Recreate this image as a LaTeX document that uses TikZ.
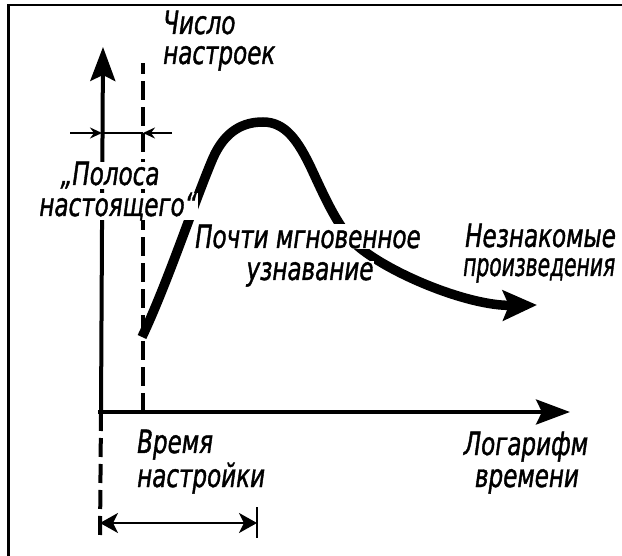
\documentclass[tikz,border=0pt]{standalone}
\usepackage{fontspec}
\setmainfont{DejaVu Sans}[FakeStretch=0.72,FakeBold=1.2]
\usetikzlibrary{arrows.meta}
\begin{document}
\begin{tikzpicture}[x=1pt,y=-1pt,
  lbl/.style={font=\itshape\fontsize{32}{36}\selectfont, inner sep=1pt, fill=white},
  axisln/.style={line width=4pt},
  dashln/.style={line width=4pt, dash pattern=on 19pt off 7pt},
  bigtip/.style={-{Stealth[length=34pt,width=25pt,inset=6pt]}},
  thinln/.style={line width=1.8pt},
  smalltip/.style={-{Stealth[length=12pt,width=11pt,inset=4pt]}},
  dimln/.style={line width=2.5pt},
  curveln/.style={line width=9.5pt, -{Stealth[length=34pt,width=30pt,inset=6pt]}}
]
\useasboundingbox (0,0) rectangle (622,556);
% frame (only top and left visible)
\draw[line width=2.5pt] (8.5,556) -- (8.5,5) -- (622,5);

% coordinates
\coordinate (O) at (101,412);
\coordinate (ytip) at (103,47);
\coordinate (xstart) at (98,412);
\coordinate (xtip) at (570,412);
\coordinate (ybot) at (100,538);
\coordinate (dtop) at (143,63);
\coordinate (dbot) at (143,412);
\coordinate (aL) at (70,133);
\coordinate (aY) at (102,133);
\coordinate (aD) at (143,133);
\coordinate (aR) at (172,133);
\coordinate (dimL) at (100,523);
\coordinate (dimR) at (257,523);
\coordinate (tickT) at (257,507);
\coordinate (tickB) at (257,538);
\coordinate (c0) at (142,337);
\coordinate (c1) at (213,158);
\coordinate (c2) at (263,122);
\coordinate (c3) at (312,170);
\coordinate (c4) at (360,248);
\coordinate (c5) at (537,305);

% curve
\draw[curveln] (c0) .. controls (168,282) and (195,200) .. (c1)
  .. controls (225,131) and (243,122) .. (c2)
  .. controls (285,122) and (298,140) .. (c3)
  .. controls (326,200) and (340,232) .. (c4)
  .. controls (395,276) and (470,306) .. (c5);

% axes
\draw[axisln, bigtip] (O) -- (ytip);
\draw[axisln, bigtip] (xstart) -- (xtip);
\draw[dashln] (O) -- (ybot);
\draw[dashln] (dbot) -- (dtop);

% band arrows
\draw[thinln, smalltip] (aL) -- (aY);
\draw[thinln] (aY) -- (aD);
\draw[thinln, smalltip] (aR) -- (aD);

% dimension
\draw[dimln, {Stealth[length=18pt,width=20pt,inset=5pt]}-{Stealth[length=18pt,width=20pt,inset=5pt]}] (dimL) -- (dimR);
\draw[dimln] (tickT) -- (tickB);

% labels
\node[lbl, anchor=base west] (t1) at (162,34) {Число};
\node[lbl, anchor=base west] (t2) at (162,64) {настроек};
\node[lbl, anchor=base, inner ysep=0pt] (p1) at (110,185) {„Полоса};
\node[lbl, anchor=base, inner ysep=0pt] (p2) at (118,216) {настоящего“};
\node[lbl, anchor=base] (m1) at (308,248) {Почти мгновенное};
\node[lbl, anchor=base] (m2) at (310,280) {узнавание};
\node[lbl, anchor=base west] (n1) at (464,247) {Незнакомые};
\node[lbl, anchor=base west] (n2) at (462,276) {\scalebox{0.88}[1]{произведения}};
\node[lbl, anchor=base west] (v1) at (136,453) {Время};
\node[lbl, anchor=base west] (v2) at (136,487) {настройки};
\node[lbl, anchor=base] (l1) at (526,455) {Логарифм};
\node[lbl, anchor=base] (l2) at (527,487) {времени};
\end{tikzpicture}
\end{document}
